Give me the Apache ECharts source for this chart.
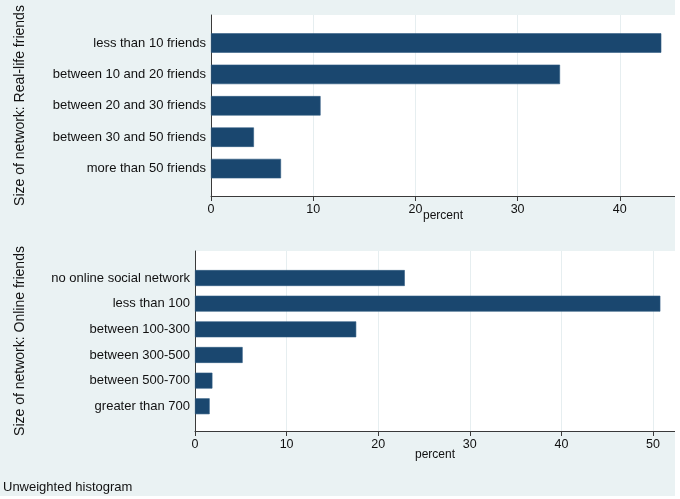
<!DOCTYPE html>
<html><head><meta charset="utf-8">
<script src="https://cdn.jsdelivr.net/npm/echarts@6/dist/echarts.min.js"></script>
<style>html,body{margin:0;padding:0;background:#fff;} #c{width:675px;height:496px;}</style>
</head><body><div id="c"></div>
<script>
// ---- data ----
const realCats = ['less than 10 friends','between 10 and 20 friends','between 20 and 30 friends','between 30 and 50 friends','more than 50 friends'];
const realVals = [44.06, 34.15, 10.72, 4.2, 6.85];
const onlineCats = ['no online social network','less than 100','between 100-300','between 300-500','between 500-700','greater than 700'];
const onlineVals = [22.9, 50.8, 17.6, 5.2, 1.9, 1.6];
const realTicks = [0, 10, 20, 30, 40];
const onlineTicks = [0, 10, 20, 30, 40, 50];
const realTitle = 'Size of network: Real-life friends';
const onlineTitle = 'Size of network: Online friends';
const xTitle = 'percent';
const note = 'Unweighted histogram';

// ---- styles ----
const FONT = '"Liberation Sans", Arial, Helvetica, sans-serif';
const TXT = '#111';
const BAR = '#1a476f';
const AXIS = '#3a3a3a';
const GRIDLINE = '#e6eef0';
const realMax = 45.4, onlineMax = 52.4;

function outerX(gridIndex, max, ticks, gap) {
  return {
    type: 'value', gridIndex, min: 0, max, interval: 10,
    axisLine: {show: true, lineStyle: {color: AXIS, width: 1}},
    axisTick: {show: true, length: 5, lineStyle: {color: AXIS}, customValues: ticks},
    axisLabel: {color: TXT, fontFamily: FONT, fontSize: 12.5, margin: 7, customValues: ticks,
      formatter: v => ticks.indexOf(v) >= 0 ? String(v) : ''},
    splitLine: {show: true, lineStyle: {color: GRIDLINE, width: 1}},
    name: xTitle, nameLocation: 'middle', nameGap: gap, nameMoveOverlap: false,
    nameTextStyle: {color: TXT, fontFamily: FONT, fontSize: 12}
  };
}
function outerY(gridIndex) {
  return {
    type: 'value', gridIndex, min: 0, max: 1,
    axisLine: {show: true, lineStyle: {color: AXIS, width: 1}},
    axisTick: {show: false}, axisLabel: {show: false}, splitLine: {show: false}
  };
}
function innerX(gridIndex, max) {
  return {type: 'value', gridIndex, min: 0, max, show: false, splitLine: {show: false}};
}
function innerY(gridIndex, cats) {
  return {
    type: 'category', gridIndex, data: cats, inverse: true,
    axisLine: {show: false}, axisTick: {show: false},
    axisLabel: {color: TXT, fontFamily: FONT, fontSize: 13, margin: 5},
    splitLine: {show: false}
  };
}

const chart = echarts.init(document.getElementById('c'), null, {renderer: 'canvas'});
chart.setOption({
  animation: false,
  backgroundColor: '#eaf2f3',
  grid: [
    {left: 211, top: 15, width: 464, height: 181, show: true, backgroundColor: '#fff', borderWidth: 0},
    {left: 211, top: 27.3, width: 464, height: 157},
    {left: 195, top: 251, width: 480, height: 180, show: true, backgroundColor: '#fff', borderWidth: 0},
    {left: 195, top: 265.2, width: 480, height: 153.9}
  ],
  xAxis: [
    outerX(0, realMax, realTicks, 14),
    innerX(1, realMax),
    outerX(2, onlineMax, onlineTicks, 18),
    innerX(3, onlineMax)
  ],
  yAxis: [
    outerY(0),
    innerY(1, realCats),
    outerY(2),
    innerY(3, onlineCats)
  ],
  series: [
    {type: 'bar', xAxisIndex: 1, yAxisIndex: 1, data: realVals, barCategoryGap: '38%',
     itemStyle: {color: BAR, borderColor: '#2f5b82', borderWidth: 0.6}},
    {type: 'bar', xAxisIndex: 3, yAxisIndex: 3, data: onlineVals, barCategoryGap: '38%',
     itemStyle: {color: BAR, borderColor: '#2f5b82', borderWidth: 0.6}}
  ],
  graphic: [
    {type: 'text', x: 20, y: 105.5, rotation: Math.PI / 2,
     style: {text: realTitle, font: '14px ' + FONT, fill: TXT, textAlign: 'center', textVerticalAlign: 'middle', align: 'center', verticalAlign: 'middle'}},
    {type: 'text', x: 20, y: 341, rotation: Math.PI / 2,
     style: {text: onlineTitle, font: '14px ' + FONT, fill: TXT, textAlign: 'center', textVerticalAlign: 'middle', align: 'center', verticalAlign: 'middle'}},
    {type: 'text', x: 3, y: 487,
     style: {text: note, font: '13px ' + FONT, fill: TXT, textAlign: 'left', textVerticalAlign: 'middle', align: 'left', verticalAlign: 'middle'}}
  ]
});
</script>
</body></html>
